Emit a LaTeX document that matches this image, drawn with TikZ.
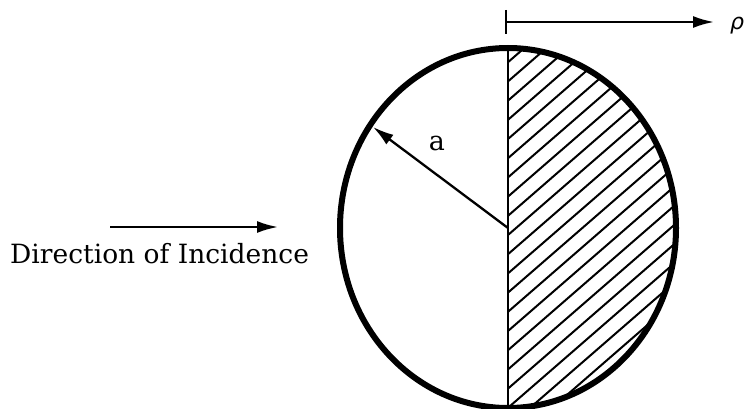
\documentclass[tikz,border=0pt]{standalone}
\usepackage{fontspec}
\setmainfont{DejaVu Serif}
\newfontfamily\rhofont{DejaVu Sans}
\usetikzlibrary{arrows.meta}
\tikzset{
  outline/.style={line width=6pt},
  thinline/.style={line width=2.3pt},
  hatchline/.style={line width=2pt},
  arr/.style={thinline,-{Latex[length=21pt,width=12pt]}},
}
\begin{document}
\begin{tikzpicture}[x=1pt,y=-1pt]
\useasboundingbox (0,0) rectangle (746,409);
\coordinate (c) at (508,228);
\coordinate (top) at (508,48);
\coordinate (bot) at (508,408);
\coordinate (rim) at (373,127);
% hatching of right half
\begin{scope}
  \clip (508,0) rectangle (746,409);
  \clip (c) ellipse [x radius=168, y radius=180];
  \foreach \k in {0,...,32} {
    \draw[hatchline] (500,{43+19.2*\k+8*0.869}) -- (700,{43+19.2*\k-192*0.869});
  }
\end{scope}
\draw[thinline] (top) -- (bot);
\draw[outline] (c) ellipse [x radius=168, y radius=180];
% radius
\draw[arr] (c) -- (rim);
\node (alab) at (437,143) {\fontsize{27}{30}\selectfont a};
% rho axis
\coordinate (tA) at (506,10);
\coordinate (tB) at (506,34);
\coordinate (r0) at (506,22);
\draw[thinline] (tA) -- (tB);
\node[anchor=west,inner sep=0pt] (rho) at (730,26) {\fontsize{22}{26}\selectfont\rhofont\itshape ρ};
\coordinate (r1) at (714,22);
\draw[arr] (r0) -- (r1);
% direction
\coordinate (d0) at (110,227);
\coordinate (d1) at (278,227);
\draw[arr] (d0) -- (d1);
\node[anchor=base west,inner sep=0pt] (dir) at (10,263) {\fontsize{26.5}{30}\selectfont Direction of Incidence};
\end{tikzpicture}
\end{document}
